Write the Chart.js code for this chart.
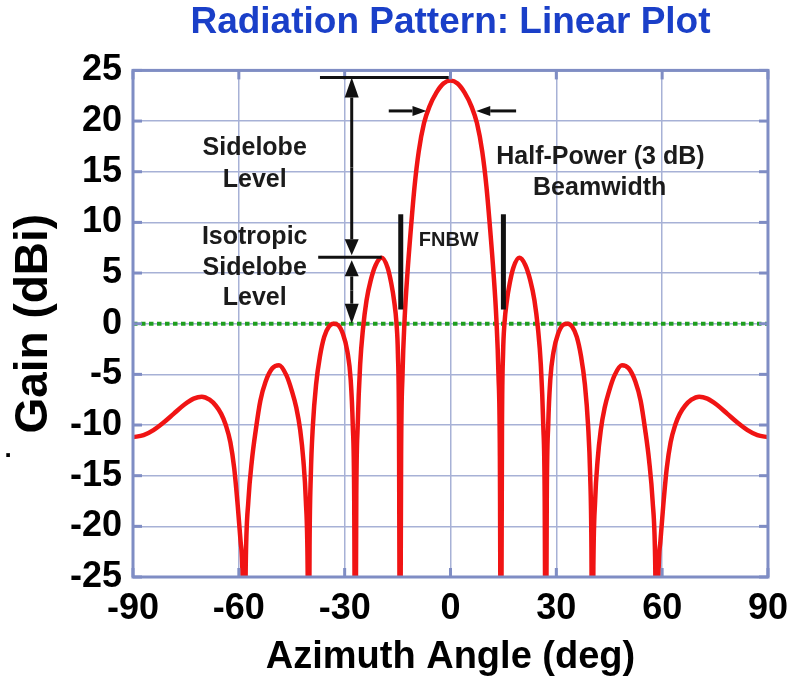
<!DOCTYPE html>
<html>
<head>
<meta charset="utf-8">
<script src="https://cdn.jsdelivr.net/npm/chart.js@4"></script>
<style>
html, body { margin: 0; padding: 0; background: #fff; }
</style>
</head>
<body>
<canvas id="patternChart" width="798" height="680"></canvas>
<script>
// Azimuth angles (deg) and gain (dBi)
const azimuth = [
    -90, -87, -84.2, -81.5, -78.5, -75.5, -72.8, -70.5, -68.3, -66.5, -65, -63.7, -62.4, -61.3, -60.3, -59.5, -58.9,
    -58.6, -58, -57.3, -56.3, -55.2, -53.9, -52.4, -50.5, -48.6, -46.5, -45, -43.7, -42.6, -41.7, -41, -40.5,
    -40.2, -39.95, -39.6, -39, -38.1, -37, -35.8, -34.5, -33.2, -32, -30.5, -29.2, -28.3, -27.7, -27.3,
    -27, -26.7, -26.3, -25.6, -24.8, -23.8, -22.6, -21.2, -19.5, -17.8, -16.8, -16, -15.3, -14.9, -14.6,
    -14.3, -14, -13.6, -13, -12.2, -11.2, -10.2, -9, -7.5, -6, -4, -2,
    0, 2, 4, 6, 7.5, 9, 10.2, 11.2, 12.2, 13, 13.6, 14, 14.3,
    14.6, 14.9, 15.3, 16, 16.8, 17.8, 19.5, 21.2, 22.6, 23.8, 24.8, 25.6, 26.3, 26.7, 27,
    27.3, 27.7, 28.3, 29.2, 30.5, 32, 33.2, 34.5, 35.8, 37, 38.1, 39, 39.6, 39.95, 40.2,
    40.5, 41, 41.7, 42.6, 43.7, 45, 46.5, 48.6, 50.5, 52.4, 53.9, 55.2, 56.3, 57.3, 58, 58.6,
    58.9, 59.5, 60.3, 61.3, 62.4, 63.7, 65, 66.5, 68.3, 70.5, 72.8, 75.5, 78.5, 81.5, 84.2, 87, 90
];
const gainDbi = [
    -11.2, -11, -10.5, -9.8, -8.9, -8, -7.4, -7.2, -7.5, -8.1, -8.9, -10, -11.7, -14.3, -18, -21.5, -26,
    -40, -23, -17.5, -13.5, -10.5, -7.6, -5.7, -4.4, -4.1, -5.1, -6.6, -8.3, -10.5, -13.5, -17.5, -24,
    -40, -22, -15, -10, -6, -3.2, -1.3, -0.3, 0, -0.1, -1, -2.8, -5.5, -10, -17,
    -40, -17, -10, -4, -0.5, 2.3, 4.3, 5.8, 6.5, 5.5, 4, 2.3, 0, -3, -10,
    -40, -13, -5, 0.5, 5, 9.5, 13.5, 17, 19.8, 21.4, 22.8, 23.7,
    24, 23.7, 22.8, 21.4, 19.8, 17, 13.5, 9.5, 5, 0.5, -5, -13, -40,
    -10, -3, 0, 2.3, 4, 5.5, 6.5, 5.8, 4.3, 2.3, -0.5, -4, -10, -17, -40,
    -17, -10, -5.5, -2.8, -1, -0.1, 0, -0.3, -1.3, -3.2, -6, -10, -15, -22, -40,
    -24, -17.5, -13.5, -10.5, -8.3, -6.6, -5.1, -4.1, -4.4, -5.7, -7.6, -10.5, -13.5, -17.5, -23, -40,
    -26, -21.5, -18, -14.3, -11.7, -10, -8.9, -8.1, -7.5, -7.2, -7.4, -8, -8.9, -9.8, -10.5, -11, -11.2
];

// isotropic (0 dBi) reference line
const isoAngles = [-90, 90];
const isoGain = [0, 0];

// tick values
const xTickValues = [-90, -60, -30, 0, 30, 60, 90];
const yTickValues = [-25, -20, -15, -10, -5, 0, 5, 10, 15, 20, 25];

// annotation levels (dBi) and angles (deg)
const peakLevel = 24.3;
const sidelobeLevel = 6.55;
const halfPowerLevel = 21;
const fnbwAngles = [-14.1, 15.0];

const fontFamily = '"Liberation Sans", Arial, Helvetica, sans-serif';
const gridColor = '#a7b1d6';
const frameColor = '#7f8dc4';

function drawLine(ctx, x0, y0, x1, y1) {
    ctx.beginPath();
    ctx.moveTo(x0, y0);
    ctx.lineTo(x1, y1);
    ctx.stroke();
}

// arrow from (x0,y0) with head at (x1,y1)
function drawArrow(ctx, x0, y0, x1, y1, len, half) {
    const ang = Math.atan2(y1 - y0, x1 - x0);
    const bx = x1 - Math.cos(ang) * len;
    const by = y1 - Math.sin(ang) * len;
    drawLine(ctx, x0, y0, bx, by);
    ctx.beginPath();
    ctx.moveTo(x1, y1);
    ctx.lineTo(bx + Math.sin(ang) * half, by - Math.cos(ang) * half);
    ctx.lineTo(bx - Math.sin(ang) * half, by + Math.cos(ang) * half);
    ctx.closePath();
    ctx.fill();
}

const annotationPlugin = {
    id: 'annotations',
    afterDatasetsDraw(chart) {
        const { ctx, chartArea: a, scales: { x, y } } = chart;
        const px = v => x.getPixelForValue(v);
        const py = v => y.getPixelForValue(v);
        ctx.save();

        // frame + inner tick stubs
        ctx.strokeStyle = frameColor;
        ctx.lineWidth = 3;
        ctx.strokeRect(a.left, a.top, a.right - a.left, a.bottom - a.top);
        yTickValues.forEach(v => {
            drawLine(ctx, a.left, py(v), a.left + 9, py(v));
            drawLine(ctx, a.right - 9, py(v), a.right, py(v));
        });
        xTickValues.forEach(v => {
            drawLine(ctx, px(v), a.top, px(v), a.top + 9);
            drawLine(ctx, px(v), a.bottom - 9, px(v), a.bottom);
        });

        // level lines and arrows
        ctx.strokeStyle = '#111';
        ctx.fillStyle = '#111';
        ctx.lineWidth = 3;
        drawLine(ctx, px(-37), py(peakLevel), px(-0.5), py(peakLevel));
        drawLine(ctx, px(-37.5), py(sidelobeLevel), px(-19.5), py(sidelobeLevel));

        const ax = px(-28);
        const mid = (py(peakLevel) + py(sidelobeLevel)) / 2;
        drawArrow(ctx, ax, mid, ax, py(peakLevel), 20, 7);
        drawArrow(ctx, ax, mid, ax, py(sidelobeLevel) - 2, 16, 7);
        const mid2 = (py(sidelobeLevel) + py(0)) / 2;
        drawArrow(ctx, ax, mid2, ax, py(sidelobeLevel) + 3, 16, 7);
        drawArrow(ctx, ax, mid2, ax, py(0), 20, 7);

        // half-power arrows
        drawArrow(ctx, px(-17.5), py(halfPowerLevel), px(-6.8), py(halfPowerLevel), 14, 5);
        drawArrow(ctx, px(18.6), py(halfPowerLevel), px(7.3), py(halfPowerLevel), 14, 5);

        // FNBW bars
        ctx.lineWidth = 5;
        fnbwAngles.forEach(v => drawLine(ctx, px(v), py(10.8), px(v), py(1.4)));

        // labels
        ctx.textAlign = 'center';
        ctx.textBaseline = 'middle';
        ctx.fillStyle = '#1b1b1b';
        ctx.font = 'bold 20px ' + fontFamily;
        ctx.fillText('FNBW', px(-0.5), py(8.2));
        ctx.font = 'bold 25px ' + fontFamily;
        ctx.fillText('Sidelobe', px(-55.5), py(17.3));
        ctx.fillText('Level', px(-55.5), py(14.15));
        ctx.fillText('Isotropic', px(-55.5), py(8.5));
        ctx.fillText('Sidelobe', px(-55.5), py(5.45));
        ctx.fillText('Level', px(-55.5), py(2.5));
        ctx.fillText('Half-Power (3 dB)', px(42.5), py(16.4));
        ctx.fillText('Beamwidth', px(42.3), py(13.4));

        // stray dot left of the axis
        ctx.fillStyle = '#000';
        ctx.font = 'bold 26px ' + fontFamily;
        ctx.fillText('.', 8, 450);
        ctx.restore();
    }
};

const ctxPattern = document.getElementById('patternChart').getContext('2d');
new Chart(ctxPattern, {
    type: 'line',
    data: {
        datasets: [{
            label: 'Gain',
            data: azimuth.map((a, i) => ({ x: a, y: gainDbi[i] })),
            borderColor: '#f01414',
            borderWidth: 4.5,
            pointRadius: 0,
            cubicInterpolationMode: 'monotone',
            clip: 0,
            order: 0
        }, {
            label: 'Isotropic',
            data: isoAngles.map((a, i) => ({ x: a, y: isoGain[i] })),
            borderColor: '#1f9e1f',
            borderWidth: 4,
            borderDash: [4.5, 3.5],
            borderCapStyle: 'butt',
            pointRadius: 0,
            order: 1
        }]
    },
    options: {
        responsive: false,
        animation: false,
        layout: { padding: { left: 0, right: 26, top: 0, bottom: 0 } },
        plugins: {
            legend: { display: false },
            tooltip: { enabled: false },
            title: {
                display: true,
                text: 'Radiation Pattern: Linear Plot',
                color: '#1a3fc8',
                fullSize: false,
                font: { family: fontFamily, size: 37, weight: 'bold' },
                padding: { top: 1, bottom: 25 }
            }
        },
        scales: {
            x: {
                type: 'linear',
                min: -90,
                max: 90,
                afterBuildTicks: s => { s.ticks = xTickValues.map(v => ({ value: v })); },
                afterFit: s => { s.height = 103; },
                ticks: {
                    color: '#000',
                    autoSkip: false,
                    maxRotation: 0,
                    padding: 10,
                    font: { family: fontFamily, size: 36, weight: 'bold' }
                },
                grid: { color: gridColor, lineWidth: 1.5, drawTicks: false },
                border: { display: false },
                title: {
                    display: true,
                    text: 'Azimuth Angle (deg)',
                    color: '#000',
                    font: { family: fontFamily, size: 38, weight: 'bold' },
                    padding: { top: 0, bottom: 0 }
                }
            },
            y: {
                type: 'linear',
                min: -25,
                max: 25,
                afterBuildTicks: s => { s.ticks = yTickValues.map(v => ({ value: v })); },
                afterFit: s => { s.width = 133; },
                ticks: {
                    color: '#000',
                    autoSkip: false,
                    padding: 11,
                    font: { family: fontFamily, size: 36, weight: 'bold' }
                },
                grid: { color: gridColor, lineWidth: 1.5, drawTicks: false },
                border: { display: false },
                title: {
                    display: true,
                    text: 'Gain (dBi)',
                    color: '#000',
                    font: { family: fontFamily, size: 46, weight: 'bold' },
                    padding: { top: 7, bottom: 0 }
                }
            }
        }
    },
    plugins: [annotationPlugin]
});
</script>
</body>
</html>
